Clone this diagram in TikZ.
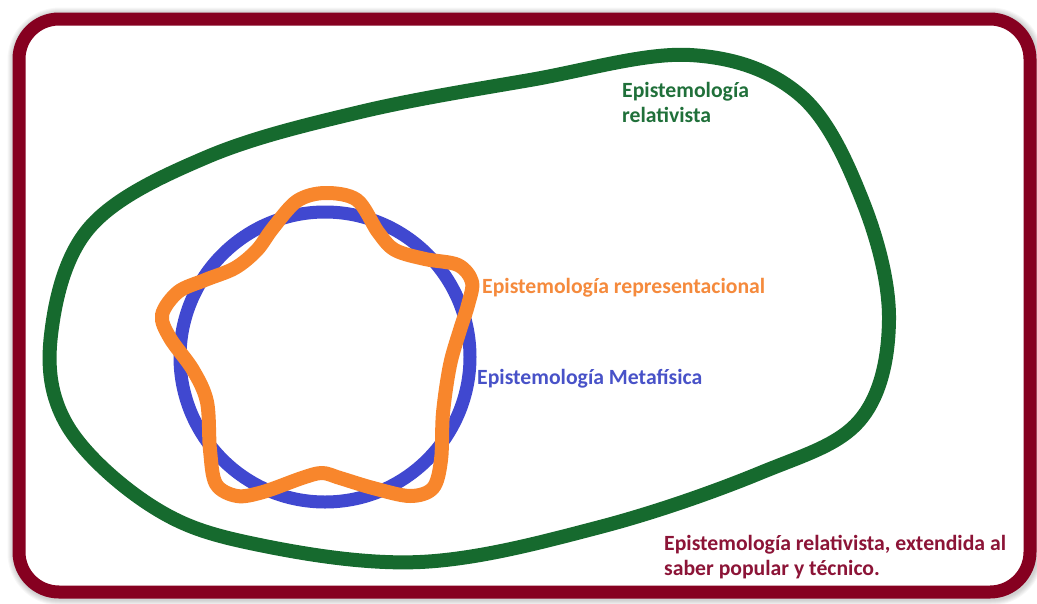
\documentclass[tikz,border=0pt]{standalone}
\usepackage{fontspec}
\setmainfont{Carlito}
\definecolor{frameRed}{RGB}{134,0,32}
\definecolor{relGreen}{RGB}{22,106,46}
\definecolor{reprOrange}{RGB}{248,134,44}
\definecolor{metaBlue}{RGB}{64,72,208}
\definecolor{greenText}{RGB}{32,112,58}
\definecolor{orangeText}{RGB}{245,138,60}
\definecolor{blueText}{RGB}{72,82,200}
\definecolor{maroonText}{RGB}{140,20,55}
\begin{document}
\begin{tikzpicture}[x=1pt,y=-1pt,
  frame/.style={draw=frameRed,line width=13pt,rounded corners=40pt,fill=white},
  ring/.style={line width=14pt,line join=round},
  label/.style={anchor=base west,inner sep=0pt,font=\bfseries\fontsize{21.7}{25}\selectfont}]
\useasboundingbox (0,0) rectangle (1037,603);
\fill[white] (0,0) rectangle (1037,603);
% soft shadow around the outer frame
\foreach \k in {1,...,6}{
  \pgfmathsetmacro\lw{13+2*\k}
  \draw[black,opacity=0.03,line width=\lw pt,rounded corners=40pt] (20,20) rectangle (1031,593);
}
\draw[frame] (19,19) rectangle (1030,592);

% relativist epistemology
\draw[ring,relGreen] plot[smooth cycle,tension=0.6] coordinates {
  (51,335) (90,227) (207,157) (360,112) (530,80) (690,55) (800,95)
  (863,202) (889,320) (860,420) (760,473) (600,527) (420,562)
  (250,543) (150,505) (67,425)};

% metaphysical epistemology
\draw[ring,metaBlue,line width=13pt] (325,357) circle[radius=145pt];

% representational epistemology
\draw[ring,reprOrange] plot[smooth cycle,tension=0.55] coordinates {
  (325,193) (357,200) (378,232) (395,250) (425,259) (458,265) (472,282)
  (468,305) (460,330) (450,365) (443,413) (441,460) (433,488) (410,496)
  (373,488) (340,478) (322,473) (302,478) (263,492) (237,496) (216,484)
  (210,450) (207,402) (193,370) (170,338) (162,315) (178,292) (205,280)
  (235,268) (257,250) (273,228) (297,201)};

\node[label,text=greenText] (rel1) at (622,97) {Epistemología};
\node[label,text=greenText] (rel2) at (622,122) {relativista};
\node[label,text=orangeText] (repr) at (482,293) {Epistemología representacional};
\node[label,text=blueText] (meta) at (477,384) {Epistemología Metafísica};
\node[label,text=maroonText] (ext1) at (664,550) {Epistemología relativista, extendida al};
\node[label,text=maroonText] (ext2) at (664,575) {saber popular y técnico.};
\end{tikzpicture}
\end{document}
